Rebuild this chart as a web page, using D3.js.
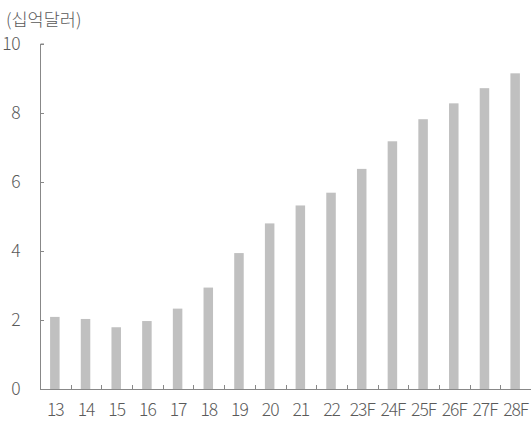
<!DOCTYPE html>
<html><head><meta charset="utf-8">
<script src="https://cdn.jsdelivr.net/npm/d3@7"></script>
<style>body{margin:0;background:#fff}svg{display:block}</style>
</head><body><svg id="c" width="532" height="421"></svg>
<script>
const categories = ["13","14","15","16","17","18","19","20","21","22","23F","24F","25F","26F","27F","28F"];
const values = [2.09,2.03,1.79,1.97,2.33,2.94,3.94,4.80,5.32,5.69,6.38,7.18,7.82,8.28,8.72,9.15];
const yTicks = [0,2,4,6,8,10];
const unitLabel = "(십억달러)";

const svg = d3.select("#c");
const font = "'Noto Sans CJK KR', sans-serif";
const textColor = "#5a5a5a";
const axisColor = "#888";
const x0 = 40, x1 = 531, yTop = 44, yBot = 389;

const x = d3.scaleBand().domain(categories).range([x0, x1]).paddingInner(0).paddingOuter(0);
const y = d3.scaleLinear().domain([0, 10]).range([yBot, yTop]);

const barW = 9.5;
svg.append("g").selectAll("rect").data(values).join("rect")
  .attr("x", (d,i) => x(categories[i]) + x.bandwidth()/2 - barW/2 - 0.5)
  .attr("y", d => y(d))
  .attr("width", barW)
  .attr("height", d => yBot - y(d))
  .attr("fill", "#c0c0c0");

// y axis
const ya = svg.append("g").attr("transform", `translate(${x0},0)`)
  .call(d3.axisRight(y).tickValues(yTicks).tickSize(4).tickFormat(""));
ya.select(".domain").attr("stroke", axisColor).attr("d", `M4,${yTop}H0.5V${yBot}`);
ya.selectAll(".tick line").attr("stroke", axisColor);
ya.selectAll(".tick").filter(d => d === 0).remove();

svg.append("g").selectAll("text").data(yTicks).join("text")
  .attr("x", 20)
  .attr("y", d => y(d))
  .attr("dy", "0.36em")
  .attr("text-anchor", "end")
  .attr("font-family", font).attr("font-weight", 300).attr("font-size", 17.5)
  .attr("letter-spacing", "-0.5px")
  .attr("fill", textColor)
  .text(d => d);

// x axis
const bounds = categories.slice(1).map(c => x(c));
const xa = svg.append("g");
xa.append("line").attr("x1", x0).attr("x2", x1).attr("y1", yBot+0.5).attr("y2", yBot+0.5).attr("stroke", axisColor);
xa.selectAll("line.t").data(bounds).join("line").attr("class","t")
  .attr("x1", d => Math.round(d)+0.5).attr("x2", d => Math.round(d)+0.5)
  .attr("y1", yBot).attr("y2", yBot-4).attr("stroke", axisColor);

svg.append("g").selectAll("text").data(categories).join("text")
  .attr("x", d => x(d) + x.bandwidth()/2)
  .attr("y", 416)
  .attr("text-anchor", "middle")
  .attr("font-family", font).attr("font-weight", 300).attr("font-size", 17.5)
  .attr("letter-spacing", "-1px")
  .attr("fill", textColor)
  .text(d => d);

svg.append("text").attr("x", 6).attr("y", 26)
  .attr("font-family", font).attr("font-weight", 300).attr("font-size", 17.5)
  .attr("fill", textColor).text(unitLabel);
</script></body></html>
